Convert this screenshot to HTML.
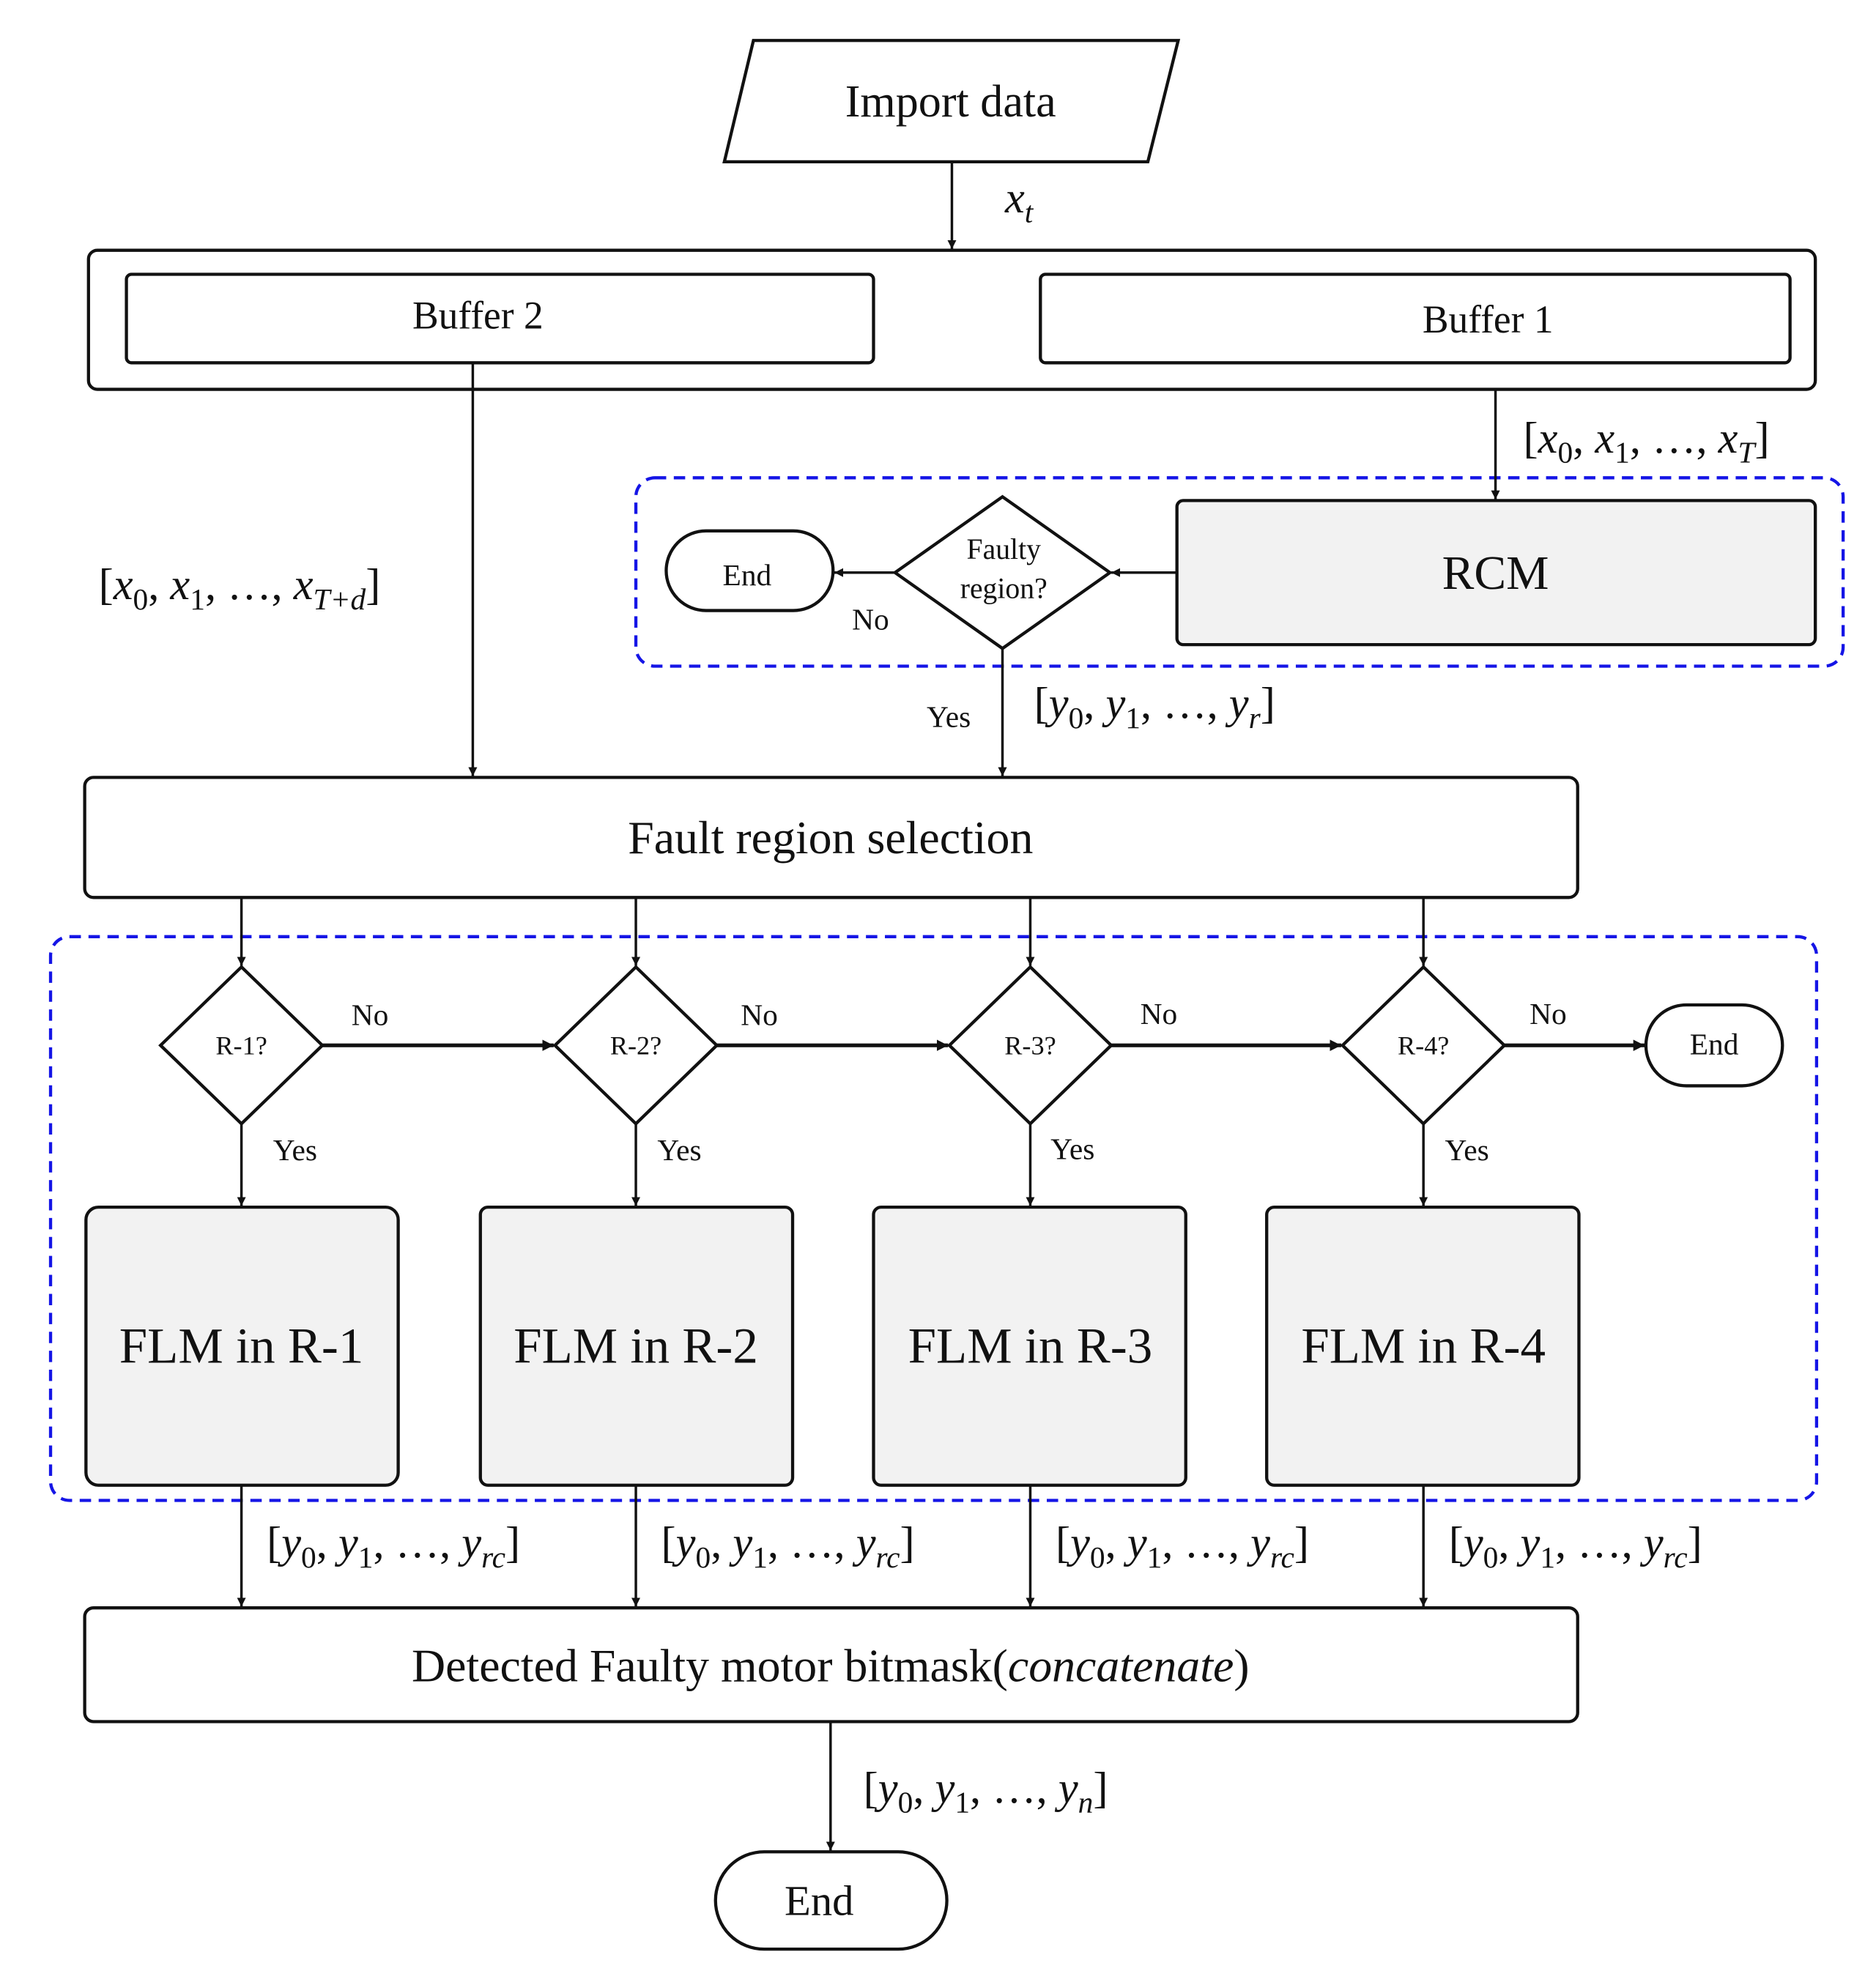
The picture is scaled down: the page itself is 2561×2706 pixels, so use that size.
<!DOCTYPE html>
<html><head><meta charset="utf-8"><style>
html,body{margin:0;padding:0;background:#fff;}
svg{display:block;}
text{font-family:"Liberation Serif",serif;fill:#111;}
.it{font-style:italic;}
</style></head><body>
<svg width="2561" height="2706" viewBox="0 0 1484 1568" preserveAspectRatio="none" xmlns="http://www.w3.org/2000/svg">
<defs>
<marker id="a" viewBox="0 0 10 10" refX="10" refY="5" markerWidth="7" markerHeight="7" orient="auto" markerUnits="userSpaceOnUse"><path d="M0,0L10,5L0,10z" fill="#111"/></marker>
<marker id="b" viewBox="0 0 10 10" refX="10" refY="5" markerWidth="9" markerHeight="9" orient="auto" markerUnits="userSpaceOnUse"><path d="M0,0L10,5L0,10z" fill="#111"/></marker>
</defs>
<g stroke="#111" fill="none" stroke-width="2.5">
<polygon points="596,32 932,32 908,128 573,128" fill="#fff"/>
<rect x="70" y="198" width="1366" height="110" rx="7" fill="#fff"/>
<rect x="100" y="217" width="591" height="70" rx="4"/>
<rect x="823" y="217" width="593" height="70" rx="4"/>
<rect x="503" y="378" width="955" height="149" rx="15" stroke="#1515e6" stroke-dasharray="9,6"/>
<rect x="931" y="396" width="505" height="114" rx="5" fill="#f2f2f2"/>
<polygon points="793,393 878,453 793,513 708,453" fill="#fff"/>
<rect x="527" y="420" width="132" height="63" rx="31.5" fill="#fff"/>
<rect x="67" y="615" width="1181" height="95" rx="7" fill="#fff"/>
<rect x="40" y="741" width="1397" height="446" rx="15" stroke="#1515e6" stroke-dasharray="9,6"/>
<polygon points="191,765 255,827 191,889 127,827" fill="#fff"/>
<polygon points="503,765 567,827 503,889 439,827" fill="#fff"/>
<polygon points="815,765 879,827 815,889 751,827" fill="#fff"/>
<polygon points="1126,765 1190,827 1126,889 1062,827" fill="#fff"/>
<rect x="1302" y="795" width="108" height="64" rx="32" fill="#fff"/>
<rect x="68" y="955" width="247" height="220" rx="10" fill="#f2f2f2"/>
<rect x="380" y="955" width="247" height="220" rx="6" fill="#f2f2f2"/>
<rect x="691" y="955" width="247" height="220" rx="6" fill="#f2f2f2"/>
<rect x="1002" y="955" width="247" height="220" rx="6" fill="#f2f2f2"/>
<rect x="67" y="1272" width="1181" height="90" rx="7" fill="#fff"/>
<rect x="566" y="1465" width="183" height="77" rx="38.5" fill="#fff"/>
</g>
<g stroke="#111" stroke-width="2" fill="none">
<line x1="753" y1="128" x2="753" y2="197" marker-end="url(#a)"/>
<line x1="374" y1="287" x2="374" y2="614" marker-end="url(#a)"/>
<line x1="1183" y1="308" x2="1183" y2="395" marker-end="url(#a)"/>
<line x1="931" y1="453" x2="879" y2="453" marker-end="url(#a)"/>
<line x1="708" y1="453" x2="660" y2="453" marker-end="url(#a)"/>
<line x1="793" y1="513" x2="793" y2="614" marker-end="url(#a)"/>
<line x1="191" y1="710" x2="191" y2="764" marker-end="url(#a)"/>
<line x1="503" y1="710" x2="503" y2="764" marker-end="url(#a)"/>
<line x1="815" y1="710" x2="815" y2="764" marker-end="url(#a)"/>
<line x1="1126" y1="710" x2="1126" y2="764" marker-end="url(#a)"/>
<line x1="191" y1="889" x2="191" y2="954" marker-end="url(#a)"/>
<line x1="503" y1="889" x2="503" y2="954" marker-end="url(#a)"/>
<line x1="815" y1="889" x2="815" y2="954" marker-end="url(#a)"/>
<line x1="1126" y1="889" x2="1126" y2="954" marker-end="url(#a)"/>
<line x1="191" y1="1175" x2="191" y2="1271" marker-end="url(#a)"/>
<line x1="503" y1="1175" x2="503" y2="1271" marker-end="url(#a)"/>
<line x1="815" y1="1175" x2="815" y2="1271" marker-end="url(#a)"/>
<line x1="1126" y1="1175" x2="1126" y2="1271" marker-end="url(#a)"/>
<line x1="657" y1="1362" x2="657" y2="1464" marker-end="url(#a)"/>
</g>
<g stroke="#111" stroke-width="3" fill="none">
<line x1="255" y1="827" x2="438" y2="827" marker-end="url(#b)"/>
<line x1="567" y1="827" x2="750" y2="827" marker-end="url(#b)"/>
<line x1="879" y1="827" x2="1061" y2="827" marker-end="url(#b)"/>
<line x1="1190" y1="827" x2="1301" y2="827" marker-end="url(#b)"/>
</g>
<g text-anchor="middle">
<text x="752" y="92" font-size="36">Import data</text>
<text x="378" y="260" font-size="31">Buffer 2</text>
<text x="1177" y="263" font-size="31">Buffer 1</text>
<text x="1183" y="466" font-size="38">RCM</text>
<text x="794" y="442" font-size="23">Faulty</text>
<text x="794" y="473" font-size="23">region?</text>
<text x="591" y="463" font-size="24">End</text>
<text x="657" y="675" font-size="37">Fault region selection</text>
<text x="191" y="834" font-size="21">R-1?</text>
<text x="503" y="834" font-size="21">R-2?</text>
<text x="815" y="834" font-size="21">R-3?</text>
<text x="1126" y="834" font-size="21">R-4?</text>
<text x="1356" y="834" font-size="24">End</text>
<text x="191" y="1078" font-size="40">FLM in R-1</text>
<text x="503" y="1078" font-size="40">FLM in R-2</text>
<text x="815" y="1078" font-size="40">FLM in R-3</text>
<text x="1126" y="1078" font-size="40">FLM in R-4</text>
<text x="657" y="1330" font-size="37">Detected Faulty motor bitmask(<tspan class="it">concatenate</tspan>)</text>
<text x="648" y="1515" font-size="34">End</text>
</g>
<g font-size="24">
<text x="674" y="498">No</text>
<text x="733" y="575">Yes</text>
<text x="278" y="811">No</text><text x="586" y="811">No</text><text x="902" y="810">No</text><text x="1210" y="810">No</text>
<text x="216" y="918">Yes</text><text x="520" y="918">Yes</text><text x="831" y="917">Yes</text><text x="1143" y="918">Yes</text>
</g>
<g font-size="35">
<text x="795" y="168" class="it">x<tspan font-size="24" dy="8">t</tspan></text>
<text x="78" y="474">[<tspan class="it">x</tspan><tspan font-size="24" dy="8">0</tspan><tspan dy="-8">, </tspan><tspan class="it">x</tspan><tspan font-size="24" dy="8">1</tspan><tspan dy="-8">, …, </tspan><tspan class="it">x</tspan><tspan font-size="24" dy="8" class="it">T+d</tspan><tspan dy="-8">]</tspan></text>
<text x="1205" y="358">[<tspan class="it">x</tspan><tspan font-size="24" dy="8">0</tspan><tspan dy="-8">, </tspan><tspan class="it">x</tspan><tspan font-size="24" dy="8">1</tspan><tspan dy="-8">, …, </tspan><tspan class="it">x</tspan><tspan font-size="24" dy="8" class="it">T</tspan><tspan dy="-8">]</tspan></text>
<text x="818" y="568">[<tspan class="it">y</tspan><tspan font-size="24" dy="8">0</tspan><tspan dy="-8">, </tspan><tspan class="it">y</tspan><tspan font-size="24" dy="8">1</tspan><tspan dy="-8">, …, </tspan><tspan class="it">y</tspan><tspan font-size="24" dy="8" class="it">r</tspan><tspan dy="-8">]</tspan></text>
<text x="211" y="1232">[<tspan class="it">y</tspan><tspan font-size="24" dy="8">0</tspan><tspan dy="-8">, </tspan><tspan class="it">y</tspan><tspan font-size="24" dy="8">1</tspan><tspan dy="-8">, …, </tspan><tspan class="it">y</tspan><tspan font-size="24" dy="8" class="it">rc</tspan><tspan dy="-8">]</tspan></text>
<text x="523" y="1232">[<tspan class="it">y</tspan><tspan font-size="24" dy="8">0</tspan><tspan dy="-8">, </tspan><tspan class="it">y</tspan><tspan font-size="24" dy="8">1</tspan><tspan dy="-8">, …, </tspan><tspan class="it">y</tspan><tspan font-size="24" dy="8" class="it">rc</tspan><tspan dy="-8">]</tspan></text>
<text x="835" y="1232">[<tspan class="it">y</tspan><tspan font-size="24" dy="8">0</tspan><tspan dy="-8">, </tspan><tspan class="it">y</tspan><tspan font-size="24" dy="8">1</tspan><tspan dy="-8">, …, </tspan><tspan class="it">y</tspan><tspan font-size="24" dy="8" class="it">rc</tspan><tspan dy="-8">]</tspan></text>
<text x="1146" y="1232">[<tspan class="it">y</tspan><tspan font-size="24" dy="8">0</tspan><tspan dy="-8">, </tspan><tspan class="it">y</tspan><tspan font-size="24" dy="8">1</tspan><tspan dy="-8">, …, </tspan><tspan class="it">y</tspan><tspan font-size="24" dy="8" class="it">rc</tspan><tspan dy="-8">]</tspan></text>
<text x="683" y="1426">[<tspan class="it">y</tspan><tspan font-size="24" dy="8">0</tspan><tspan dy="-8">, </tspan><tspan class="it">y</tspan><tspan font-size="24" dy="8">1</tspan><tspan dy="-8">, …, </tspan><tspan class="it">y</tspan><tspan font-size="24" dy="8" class="it">n</tspan><tspan dy="-8">]</tspan></text>
</g>
</svg>
</body></html>
